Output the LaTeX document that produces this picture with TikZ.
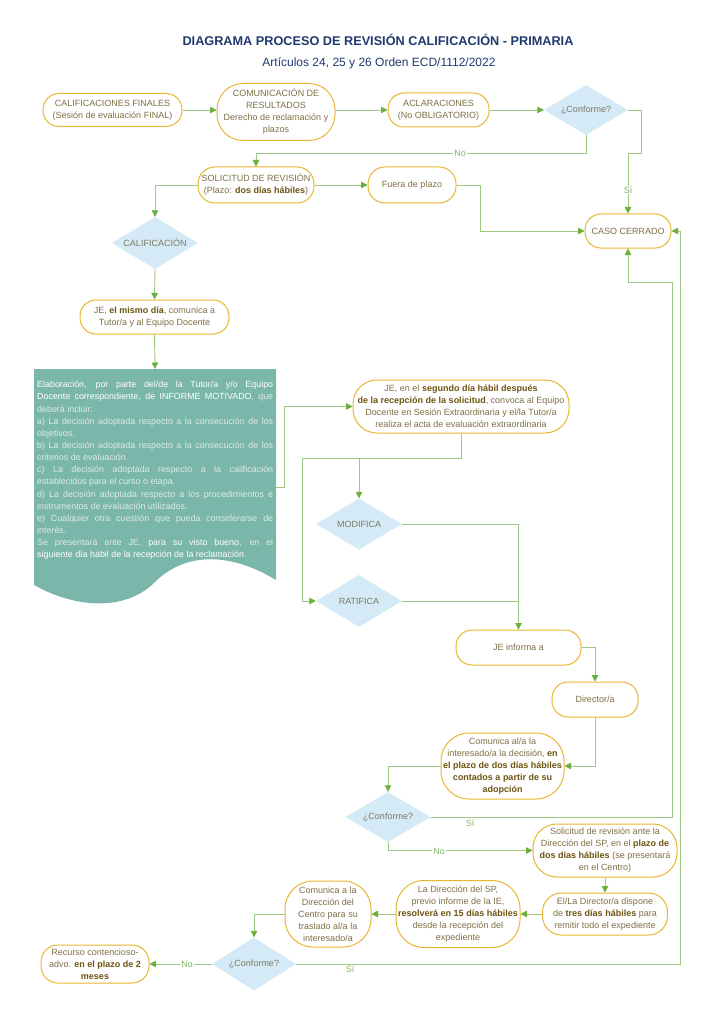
\documentclass[tikz,border=0pt]{standalone}
\usepackage{fontspec}
\setmainfont{Liberation Sans}
\usetikzlibrary{arrows.meta,shapes.geometric}
\definecolor{boxgold}{HTML}{E8B630}
\definecolor{txtc}{HTML}{7F6F45}
\definecolor{boldc}{HTML}{6E5410}
\definecolor{diafill}{HTML}{D4EAF6}
\definecolor{diatxt}{HTML}{7B7A62}
\definecolor{linegreen}{HTML}{9DC882}
\definecolor{tipgreen}{HTML}{6CAF3E}
\definecolor{labgreen}{HTML}{84B560}
\definecolor{tealc}{HTML}{7BB6AB}
\definecolor{tealdim}{HTML}{DCEBE7}
\definecolor{navy}{HTML}{1F3A6E}
\newcommand\nfont{\fontsize{9}{12}\selectfont}
\newcommand\bem[1]{\textbf{\color{boldc}#1}}
\newcommand\tw[1]{{\color{white}#1}}
\begin{document}
\begin{tikzpicture}[x=1pt,y=-1pt,
  box/.style={draw=boxgold, line width=1pt, fill=white, align=center, text=txtc, font=\nfont, inner sep=1pt},
  dia/.style={diamond, aspect=1.68, fill=diafill, draw=none, text=diatxt, font=\nfont, inner sep=0pt},
  conn/.style={draw=linegreen, line width=0.9pt},
  arr/.style={conn, -{Triangle[length=6.5pt,width=6.5pt,color=tipgreen]}},
  lab/.style={fill=white, inner sep=1pt, text=labgreen, font=\nfont}]
\useasboundingbox (0,0) rectangle (724,1024);
\fill[white] (0,0) rectangle (724,1024);

\node[font=\fontsize{12.7}{15}\selectfont\bfseries, text=navy] (title) at (378,40) {DIAGRAMA PROCESO DE REVISIÓN CALIFICACIÓN - PRIMARIA};
\node[font=\fontsize{12}{14}\selectfont, text=navy] (sub) at (379,63) {Artículos 24, 25 y 26 Orden ECD/1112/2022};

% row 1
\node[box, minimum width=139, minimum height=33, rounded corners=16] (A) at (112.5,110) {CALIFICACIONES FINALES\\(Sesión de evaluación FINAL)};
\node[box, minimum width=118, minimum height=57, rounded corners=26] (B) at (276,112) {COMUNICACIÓN DE\\RESULTADOS\\Derecho de reclamación y\\plazos};
\node[box, minimum width=101, minimum height=34, rounded corners=16] (C) at (438.5,110) {ACLARACIONES\\(No OBLIGATORIO)};
\node[dia, minimum width=84, minimum height=50] (D) at (586,110) {¿Conforme?};

\node[box, minimum width=116, minimum height=36, rounded corners=17] (E) at (256,185) {SOLICITUD DE REVISIÓN\\(Plazo: \bem{dos días hábiles})};
\node[box, minimum width=88, minimum height=36, rounded corners=17] (F) at (412,185) {Fuera de plazo};
\node[box, minimum width=86, minimum height=34, rounded corners=16] (G) at (628,231) {CASO CERRADO};
\node[dia, minimum width=86, minimum height=52] (H) at (155,243) {CALIFICACIÓN};
\node[box, minimum width=149, minimum height=34, rounded corners=16] (I) at (154.5,317) {JE, \bem{el mismo día}, comunica a\\Tutor/a y al Equipo Docente};

% teal document
\fill[tealc] (34,369) -- (276,369) -- (276,580) .. controls (230,552) and (185,552) .. (155,582) .. controls (125,612) and (75,608) .. (34,585) -- cycle;
\coordinate (docT) at (155,369);
\coordinate (docR) at (276,487);
\node[anchor=north west, text width=236, align=justify, inner sep=0pt, font=\fontsize{8.9}{12.15}\selectfont, text=tealdim] (doctext) at (37,379) {\hyphenpenalty=10000\exhyphenpenalty=10000\tolerance=9999\strut
\tw{Elaboración, por parte del/de la Tutor/a y/o Equipo}\linebreak
\tw{Docente correspondiente, de INFORME MOTIVADO}, que\linebreak
deberá incluir:\\
a) La decisión adoptada respecto a la consecución de los\linebreak
objetivos.\\
b) La decisión adoptada respecto a la consecución de los\linebreak
criterios de evaluación.\\
c) La decisión adoptada respecto a la calificación\linebreak
establecidos para el curso o etapa.\\
d) La decisión adoptada respecto a los procedimientos e\linebreak
instrumentos de evaluación utilizados.\\
e) Cualquier otra cuestión que pueda considerarse de\linebreak
interés.\\
Se presentará ante JE, \tw{para su visto bueno}, en el\linebreak
\tw{siguiente día hábil de la recepción de la reclamación}.};

\node[box, minimum width=216, minimum height=53, rounded corners=24] (K) at (461,406.5) {JE, en el \bem{segundo día hábil después}\\\bem{de la recepción de la solicitud}, convoca al Equipo\\Docente en Sesión Extraordinaria y el/la Tutor/a\\realiza el acta de evaluación extraordinaria};
\node[dia, minimum width=86, minimum height=51] (L) at (359,524) {MODIFICA};
\node[dia, minimum width=86, minimum height=52] (M) at (359,601) {RATIFICA};
\node[box, minimum width=125, minimum height=35, rounded corners=16] (N) at (518.5,647.5) {JE informa a};
\node[box, minimum width=86, minimum height=35, rounded corners=16] (O) at (595,699.5) {Director/a};
\node[box, minimum width=123, minimum height=66, rounded corners=28] (P) at (502.5,766) {Comunica al/a la\\interesado/a la decisión, \bem{en}\\\bem{el plazo de dos días hábiles}\\\bem{contados a partir de su}\\\bem{adopción}};
\node[dia, minimum width=85, minimum height=50] (Q) at (388,817) {¿Conforme?};
\node[box, minimum width=144, minimum height=53, rounded corners=24] (R) at (605,850.5) {Solicitud de revisión ante la\\Dirección del SP, en el \bem{plazo de}\\\bem{dos días hábiles} (se presentará\\en el Centro)};
\node[box, minimum width=125, minimum height=42, rounded corners=19] (S) at (605,914) {El/La Director/a dispone\\de \bem{tres días hábiles} para\\remitir todo el expediente};
\node[box, minimum width=124, minimum height=67, rounded corners=28] (T) at (458,914) {La Dirección del SP,\\previo informe de la IE,\\\bem{resolverá en 15 días hábiles}\\desde la recepción del\\expediente};
\node[box, minimum width=86, minimum height=66, rounded corners=28] (U) at (328,914) {Comunica a la\\Dirección del\\Centro para su\\traslado al/a la\\interesado/a};
\node[dia, minimum width=84, minimum height=53] (V) at (254,964) {¿Conforme?};
\node[box, minimum width=108, minimum height=38, rounded corners=17] (W) at (95,964) {Recurso contencioso-\\advo. \bem{en el plazo de 2}\\\bem{meses}};

% connectors
\draw[arr] (A.east) -- (A.east -| B.west);
\draw[arr] (B.east |- C.west) -- (C.west);
\draw[arr] (C.east) -- (D.west);
\draw[arr] (D.east) -| (641,153) -| (G.north);
\node[lab] (l1) at (628,190) {Sí};
\draw[arr] (D.south) -- (D.south |- 0,153) -| (E.north);
\node[lab] (l2) at (460,153) {No};
\draw[arr] (E.east) -- (F.west);
\draw[arr] (F.east) -| (480,231) -- (G.west);
\draw[arr] (E.west) -| (H.north);
\draw[arr] (H.south) -- (I.north);
\draw[arr] (I.south) -- (docT);
\draw[arr] (docR) -- (284,487) |- (K.west);
\draw[arr] (K.south) |- (302,458) |- (M.west);
\draw[arr] (L.north |- 0,458) -- (L.north);
\draw[arr] (L.east) -| (N.north);
\draw[conn] (M.east) -- (M.east -| N.north);
\draw[arr] (N.east) -| (O.north);
\draw[arr] (O.south) |- (P.east);
\draw[arr] (P.west) -| (Q.north);
\draw[arr] (Q.east) -| (672,282) -| (G.south);
\node[text=labgreen, font=\nfont, inner sep=1pt] (l3) at (470,823) {Sí};
\draw[arr] (Q.south) |- (R.west);
\node[lab] (l4) at (439,851) {No};
\draw[arr] (R.south) -- (S.north);
\draw[arr] (S.west) -- (T.east);
\draw[arr] (T.west) -- (U.east);
\draw[arr] (U.west) -| (V.north);
\draw[arr] (V.west) -- (W.east);
\node[lab] (l5) at (187,964) {No};
\draw[arr] (V.east) -| (680,231) -- (G.east);
\node[text=labgreen, font=\nfont, inner sep=1pt] (l6) at (350,969) {Sí};
\end{tikzpicture}
\end{document}
